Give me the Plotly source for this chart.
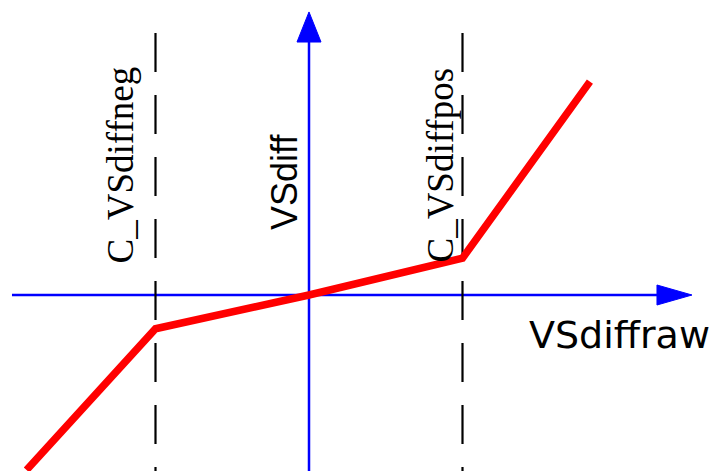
import plotly.graph_objects as go

# ---- data (in "threshold" units: C_VSdiffpos = +1, C_VSdiffneg = -1) ----
vs_raw = [-1.84, -1.0, 0.0, 1.0, 1.83]
vs_diff = [-1.14, -0.22, 0.0, 0.24, 1.39]
thresholds = [-1.0, 1.0]
threshold_labels = ["C_VSdiffneg", "C_VSdiffpos"]
x_axis_label = "VSdiffraw"
y_axis_label = "VSdiff"

# ---- layout geometry ----
W, H = 713, 471
U = 153.5            # pixels per unit
ox, oy = 309, 295    # pixel position of the origin
x_range = [-ox / U, (W - ox) / U]
y_range = [(oy - H) / U, oy / U]

x_axis_start = -1.935
x_axis_base, x_axis_tip = 2.267, 2.495
y_axis_base, y_axis_tip = 1.648, 1.844
dash_top = 1.707
h_arrow_half = 10 / U
v_arrow_half = 12 / U

BLUE = "#0000FF"
RED = "#FF0000"

fig = go.Figure()

# horizontal axis
fig.add_trace(go.Scatter(x=[x_axis_start, x_axis_base], y=[0, 0], mode="lines",
                         line=dict(color=BLUE, width=2.5), hoverinfo="skip"))
fig.add_trace(go.Scatter(x=[x_axis_base, x_axis_tip, x_axis_base, x_axis_base],
                         y=[h_arrow_half, 0, -h_arrow_half, h_arrow_half],
                         mode="lines", fill="toself", fillcolor=BLUE,
                         line=dict(color=BLUE, width=1), hoverinfo="skip"))
# vertical axis
fig.add_trace(go.Scatter(x=[0, 0], y=[y_range[0] - 0.1, y_axis_base], mode="lines",
                         line=dict(color=BLUE, width=2.5), hoverinfo="skip"))
fig.add_trace(go.Scatter(x=[-v_arrow_half, 0, v_arrow_half, -v_arrow_half],
                         y=[y_axis_base, y_axis_tip, y_axis_base, y_axis_base],
                         mode="lines", fill="toself", fillcolor=BLUE,
                         line=dict(color=BLUE, width=1), hoverinfo="skip"))

# dashed threshold lines
for t in thresholds:
    fig.add_trace(go.Scatter(x=[t, t], y=[dash_top, y_range[0] - 0.1], mode="lines",
                             line=dict(color="black", width=2.2, dash="39px,23px"),
                             hoverinfo="skip"))

# characteristic curve
fig.add_trace(go.Scatter(x=vs_raw, y=vs_diff, mode="lines",
                         line=dict(color=RED, width=7.5), hoverinfo="skip"))

annotations = [
    dict(x=2.02, y=-0.26, text=x_axis_label, showarrow=False,
         font=dict(family="DejaVu Sans", size=38, color="black")),
    dict(x=-0.16, y=0.739, text=y_axis_label, showarrow=False, textangle=-90,
         font=dict(family="Liberation Sans, Arial", size=36, color="black")),
    dict(x=-1.228, y=0.847, text=threshold_labels[0], showarrow=False, textangle=-90,
         font=dict(family="Liberation Serif, Times New Roman", size=37, color="black")),
    dict(x=0.857, y=0.847, text=threshold_labels[1], showarrow=False, textangle=-90,
         font=dict(family="Liberation Serif, Times New Roman", size=37, color="black")),
]

fig.update_layout(
    width=W, height=H,
    margin=dict(l=0, r=0, t=0, b=0),
    paper_bgcolor="white", plot_bgcolor="white",
    showlegend=False,
    xaxis=dict(range=x_range, visible=False, fixedrange=True),
    yaxis=dict(range=y_range, visible=False, fixedrange=True),
    annotations=annotations,
)

fig.write_html("out.html", config={"displayModeBar": False},
               post_script="document.body.style.margin='0';")
